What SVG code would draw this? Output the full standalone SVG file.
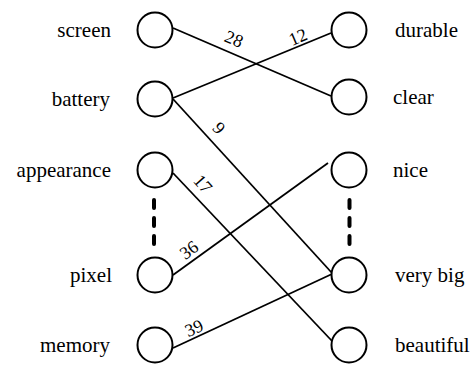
<svg xmlns="http://www.w3.org/2000/svg" width="471" height="365" viewBox="0 0 471 365">
<style>
.n{fill:#fff;stroke:#000;stroke-width:2}
.t{font-family:"Liberation Serif","Times New Roman",Times,"DejaVu Serif",serif;font-size:21px;fill:#000}
.l{text-anchor:end}
.w{font-family:"Liberation Serif","Times New Roman",Times,"DejaVu Serif",serif;font-size:18px;fill:#000;text-anchor:middle}
.e{stroke:#000;stroke-width:1.8;fill:none}
.d{stroke:#000;stroke-width:4;stroke-linecap:round;stroke-dasharray:8 10;fill:none}
</style>
<rect width="471" height="365" fill="#fff"/>
<g id="connectors">
<line class="e" x1="173" y1="28" x2="331" y2="96"/>
<line class="e" x1="173" y1="98" x2="331" y2="33"/>
<line class="e" x1="173" y1="99" x2="332" y2="273"/>
<line class="e" x1="173" y1="173" x2="332" y2="341"/>
<line class="e" x1="173" y1="275" x2="328" y2="163"/>
<line class="e" x1="173" y1="348" x2="332" y2="274"/>
<g transform="translate(234,39) rotate(23)"><text class="w" y="6">28</text></g>
<g transform="translate(298,37) rotate(-23)"><text class="w" y="6">12</text></g>
<g transform="translate(219,128) rotate(48)"><text class="w" y="6">9</text></g>
<g transform="translate(203,184) rotate(48)"><text class="w" y="6">17</text></g>
<g transform="translate(189,250) rotate(-36)"><text class="w" y="6">36</text></g>
<g transform="translate(194,328) rotate(-24)"><text class="w" y="6">39</text></g>
</g>
<g id="screen"><circle class="n" cx="155" cy="30" r="17.5"/><text class="t l" x="111" y="37">screen</text></g>
<g id="battery"><circle class="n" cx="155" cy="99" r="17.5"/><text class="t l" x="110" y="106">battery</text></g>
<g id="appearance"><circle class="n" cx="155" cy="170" r="17.5"/><text class="t l" x="111" y="177">appearance</text></g>
<g id="pixel"><circle class="n" cx="155" cy="275" r="17.5"/><text class="t l" x="112" y="282">pixel</text></g>
<g id="memory"><circle class="n" cx="155" cy="345" r="17.5"/><text class="t l" x="110" y="352">memory</text></g>
<g id="durable"><circle class="n" cx="349" cy="30" r="17.5"/><text class="t" x="395" y="37">durable</text></g>
<g id="clear"><circle class="n" cx="349" cy="97" r="17.5"/><text class="t" x="393" y="104">clear</text></g>
<g id="nice"><circle class="n" cx="349" cy="170" r="17.5"/><text class="t" x="393" y="177">nice</text></g>
<g id="very-big"><circle class="n" cx="349" cy="275" r="17.5"/><text class="t" x="395" y="282">very big</text></g>
<g id="beautiful"><circle class="n" cx="349" cy="345" r="17.5"/><text class="t" x="395" y="352">beautiful</text></g>
<g id="ellipsis">
<line class="d" x1="154" y1="200" x2="154" y2="244"/>
<line class="d" x1="349.5" y1="200" x2="349.5" y2="244"/>
</g>
</svg>
